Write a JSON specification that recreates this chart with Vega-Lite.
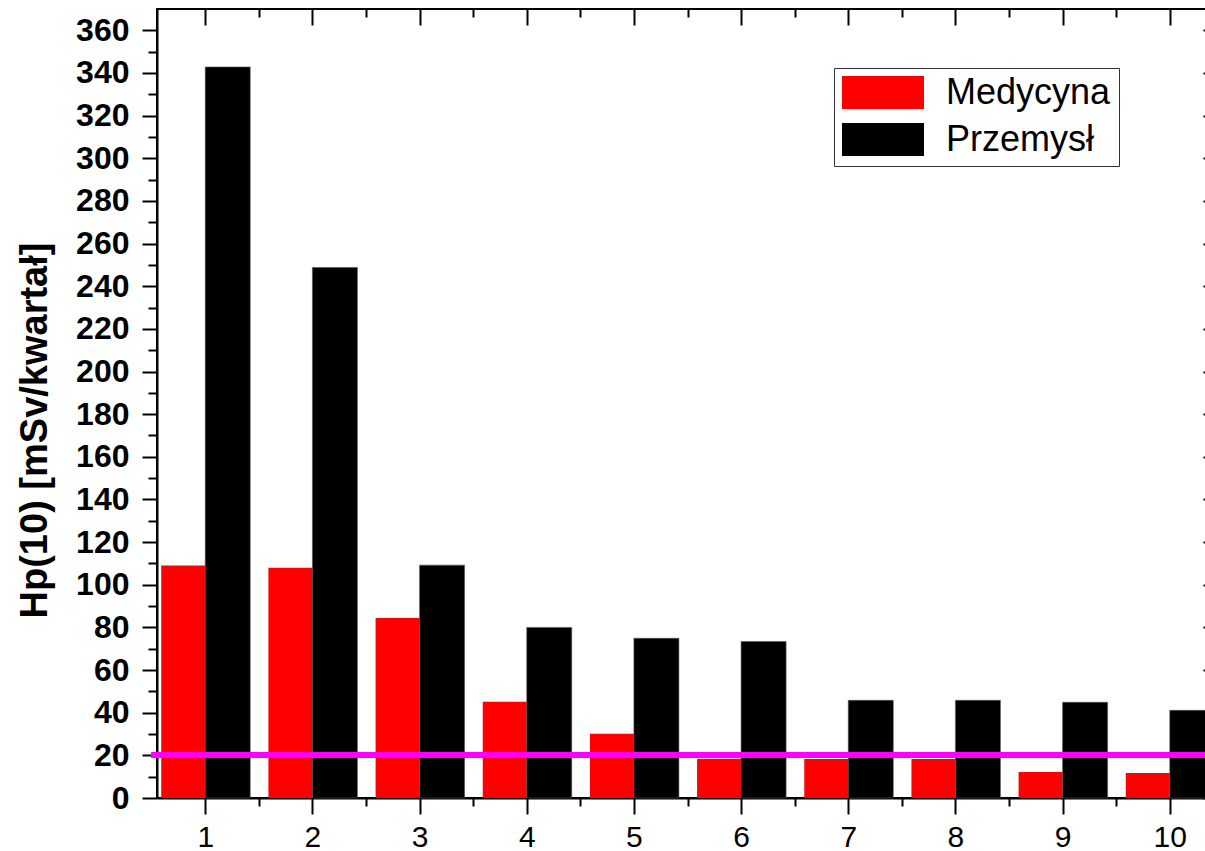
{
  "$schema": "https://vega.github.io/schema/vega-lite/v6.json",
  "width": 1061,
  "height": 789,
  "autosize": "none",
  "padding": {"left": 157, "top": 9, "right": -13, "bottom": 53},
  "background": "white",
  "config": {
    "view": {"stroke": "black", "strokeWidth": 2},
    "font": "Liberation Sans",
    "axis": {"domainColor": "black", "domainWidth": 2, "tickColor": "black", "tickWidth": 2, "labelColor": "black", "titleColor": "black"}
  },
  "data": {"values": [
    {"k": 1, "series": "Medycyna", "v": 109},
    {"k": 2, "series": "Medycyna", "v": 108},
    {"k": 3, "series": "Medycyna", "v": 84.4},
    {"k": 4, "series": "Medycyna", "v": 45.1},
    {"k": 5, "series": "Medycyna", "v": 30.1},
    {"k": 6, "series": "Medycyna", "v": 18.4},
    {"k": 7, "series": "Medycyna", "v": 18.3},
    {"k": 8, "series": "Medycyna", "v": 18.3},
    {"k": 9, "series": "Medycyna", "v": 12.2},
    {"k": 10, "series": "Medycyna", "v": 11.7},
    {"k": 1, "series": "Przemysł", "v": 342.8},
    {"k": 2, "series": "Przemysł", "v": 248.8},
    {"k": 3, "series": "Przemysł", "v": 109.2},
    {"k": 4, "series": "Przemysł", "v": 80.0},
    {"k": 5, "series": "Przemysł", "v": 74.9},
    {"k": 6, "series": "Przemysł", "v": 73.4},
    {"k": 7, "series": "Przemysł", "v": 45.8},
    {"k": 8, "series": "Przemysł", "v": 45.8},
    {"k": 9, "series": "Przemysł", "v": 44.9},
    {"k": 10, "series": "Przemysł", "v": 41.1}
  ]},
  "layer": [
    {
      "transform": [{"filter": "datum.series === 'Medycyna'"}],
      "mark": {"type": "bar", "width": 44, "xOffset": -22},
      "encoding": {
        "x": {"field": "k", "type": "quantitative", "scale": {"domain": [0.55, 10.45], "nice": false, "zero": false, "padding": 0},
          "axis": {"orient": "bottom", "title": null, "grid": false, "values": [1,1.5,2,2.5,3,3.5,4,4.5,5,5.5,6,6.5,7,7.5,8,8.5,9,9.5,10],
            "labelExpr": "datum.value % 1 === 0 ? format(datum.value, 'd') : ''",
            "tickSize": {"condition": {"test": "datum.value % 1 === 0", "value": 16}, "value": 8},
            "tickColor": "black", "tickWidth": 2,
            "labelFontSize": 30, "labelFontWeight": "normal", "labelPadding": 8, "labelFlush": false, "labelOverlap": false}},
        "y": {"field": "v", "type": "quantitative", "scale": {"domain": [0, 370], "nice": false, "zero": false, "padding": 0},
          "axis": {"orient": "left", "grid": false, "values": [0,10,20,30,40,50,60,70,80,90,100,110,120,130,140,150,160,170,180,190,200,210,220,230,240,250,260,270,280,290,300,310,320,330,340,350,360],
            "labelExpr": "datum.value % 20 === 0 ? datum.label : ''",
            "tickSize": {"condition": {"test": "datum.value % 20 === 0", "value": 15}, "value": 9},
            "tickColor": "black", "tickWidth": 2,
            "labelFontSize": 32, "labelFontWeight": "bold", "labelPadding": 13, "labelOverlap": false, "labelFlush": false,
            "title": "Hp(10) [mSv/kwartał]", "titleFontSize": 38, "titleFontWeight": "bold",
            "titleAngle": 270, "titleX": -122, "titleY": 421, "titleAlign": "center", "titleBaseline": "middle", "titleAnchor": null}},
        "color": {"field": "series", "type": "nominal",
          "scale": {"domain": ["Medycyna", "Przemysł"], "range": ["#FF0000", "#000000"]},
          "legend": {"orient": "none", "legendX": 677, "legendY": 59, "title": null,
            "strokeColor": "#333333", "fillColor": "white", "padding": 8,
            "symbolType": "M-1,-0.4H1V0.4H-1Z", "symbolSize": 6724, "symbolStrokeWidth": 0, "symbolOpacity": 1,
            "clipHeight": 33, "labelLimit": 400,
            "labelExpr": "datum.label + '\u00a0'",
            "labelFont": "Liberation Sans", "labelFontSize": 36, "labelOffset": 22, "rowPadding": 10, "labelColor": "black"}}
      }
    },
    {
      "transform": [{"filter": "datum.series === 'Przemysł'"}],
      "mark": {"type": "bar", "width": 45, "xOffset": 22.5, "stroke": "#555555", "strokeWidth": 0.6},
      "encoding": {
        "x": {"field": "k", "type": "quantitative", "scale": {"domain": [0.55, 10.45], "nice": false, "zero": false, "padding": 0},
          "axis": {"orient": "top", "title": null, "labels": false, "domain": false, "ticks": false, "values": [1,2,3,4,5,6,7,8,9,10],
            "grid": true, "gridColor": "black", "gridWidth": 2, "gridOpacity": 1, "gridDash": [16, 773], "gridDashOffset": 16}},
        "y": {"field": "v", "type": "quantitative", "scale": {"domain": [0, 370], "nice": false, "zero": false, "padding": 0},
          "axis": {"orient": "right", "title": null, "labels": false, "domain": false, "ticks": false, "values": [0,20,40,60,80,100,120,140,160,180,200,220,240,260,280,300,320,340,360],
            "grid": true, "gridColor": "black", "gridWidth": 2, "gridOpacity": 1, "gridDash": [15, 2000]}},
        "color": {"field": "series", "type": "nominal"}
      }
    },
    {
      "mark": {"type": "rule", "color": "#FF00FF", "strokeWidth": 5},
      "encoding": {
        "x": {"datum": 0.5, "type": "quantitative", "scale": {"domain": [0.55, 10.45], "nice": false, "zero": false, "padding": 0},
          "axis": {"orient": "top", "title": null, "labels": false, "domain": false, "ticks": false, "values": [1.5,2.5,3.5,4.5,5.5,6.5,7.5,8.5,9.5],
            "grid": true, "gridColor": "black", "gridWidth": 2, "gridOpacity": 1, "gridDash": [8, 781], "gridDashOffset": 8}},
        "x2": {"datum": 10.5},
        "y": {"datum": 20, "type": "quantitative", "scale": {"domain": [0, 370], "nice": false, "zero": false, "padding": 0},
          "axis": {"orient": "right", "title": null, "labels": false, "domain": false, "ticks": false, "values": [10,30,50,70,90,110,130,150,170,190,210,230,250,270,290,310,330,350],
            "grid": true, "gridColor": "black", "gridWidth": 2, "gridOpacity": 1, "gridDash": [9, 2000]}}
      }
    }
  ],
  "resolve": {"scale": {"x": "independent", "y": "independent"}, "axis": {"x": "independent", "y": "independent"}}
}
